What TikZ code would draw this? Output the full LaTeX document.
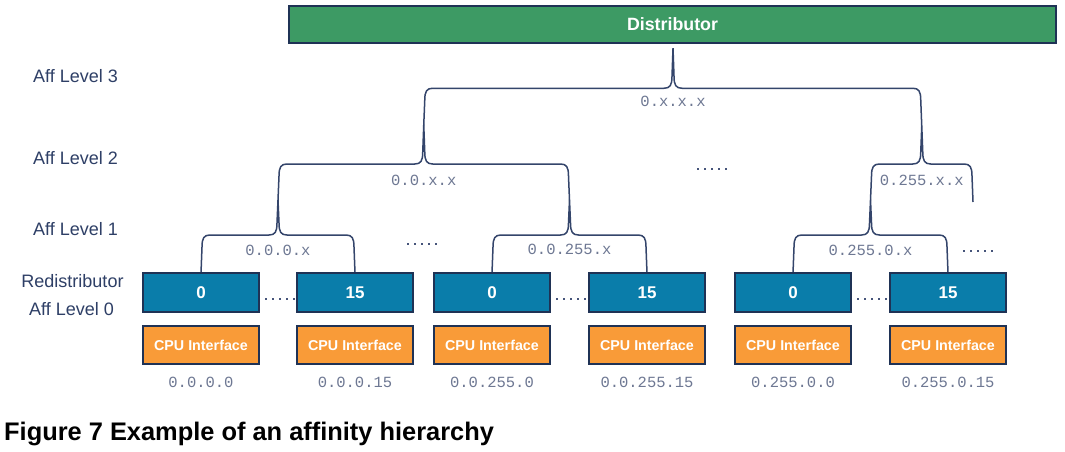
\documentclass[tikz,border=0pt]{standalone}
\usepackage{fontspec}
\setmainfont{Liberation Sans}
\newfontfamily\monof{Liberation Mono}
\usetikzlibrary{calc}
\definecolor{navy}{HTML}{1F3255}
\definecolor{linec}{HTML}{34456B}
\definecolor{lblc}{HTML}{2E3F66}
\definecolor{addrc}{HTML}{6E7893}
\definecolor{dotc}{HTML}{46547A}
\definecolor{distg}{HTML}{3D9A64}
\definecolor{boxblue}{HTML}{0A7DAA}
\definecolor{cpuor}{HTML}{F99B38}
\newcommand\affbrace[4]{%
  \draw[conn] let \p1=(#1), \p2=(#2), \p3=(#3), \p4=($(#2)+(0,#4)$) in
    (\p1) -- (\x1+1pt,\y4-12pt) .. controls (\x1+1pt,\y4-3pt) and (\x1+3pt,\y4) .. (\x1+9pt,\y4)
    -- (\x2-9pt,\y4) .. controls (\x2-3pt,\y4) and (\x2-1pt,\y4+3pt) .. (\x2-1pt,\y4+12pt) -- (\p2)
    -- (\x2+1pt,\y4+12pt) .. controls (\x2+1pt,\y4+3pt) and (\x2+3pt,\y4) .. (\x2+9pt,\y4)
    -- (\x3-9pt,\y4) .. controls (\x3-3pt,\y4) and (\x3-1pt,\y4-3pt) .. (\x3-1pt,\y4-12pt) -- (\p3);
}
\begin{document}
\begin{tikzpicture}[x=1pt,y=-1pt,
  conn/.style={draw=linec, line width=1.5pt},
  dotline/.style={draw=dotc, line width=2.3pt, dash pattern=on 2.3pt off 4.7pt},
  distbox/.style={draw=navy, line width=2.5pt, fill=distg, minimum width=767pt, minimum height=37pt,
    inner sep=0, text=white, font=\bfseries\fontsize{17.8}{18}\selectfont},
  redist/.style={draw=navy, line width=2pt, fill=boxblue, minimum width=116pt, minimum height=39pt,
    inner sep=0, text=white, font=\bfseries\fontsize{17}{17}\selectfont},
  cpu/.style={draw=navy, line width=2pt, fill=cpuor, minimum width=116pt, minimum height=38pt,
    inner sep=0, text=white, font=\bfseries\fontsize{14.3}{14.3}\selectfont},
  addr/.style={inner sep=0, text=addrc, font=\monof\fontsize{15.5}{15.5}\selectfont},
  blab/.style={inner sep=0, text=addrc, font=\monof\fontsize{15.5}{15.5}\selectfont},
  lvl/.style={inner sep=0, text=lblc, font=\fontsize{18}{18}\selectfont},
  caption/.style={inner sep=0, text=black, font=\bfseries\fontsize{25.4}{25.4}\selectfont}
]
\useasboundingbox[fill=white] (0,0) rectangle (1065,451);

% level labels
\node[lvl, anchor=base west] (l3) at (33,82) {Aff Level 3};
\node[lvl, anchor=base west] (l2) at (33,164) {Aff Level 2};
\node[lvl, anchor=base west] (l1) at (33,235) {Aff Level 1};
\node[lvl, anchor=base] (l0a) at (72.5,287) {Redistributor};
\node[lvl, anchor=base] (l0b) at (71.5,315) {Aff Level 0};

% distributor
\node[distbox] (dist) at (672.5,24.5) {Distributor};

% redistributor box positions
\path (201,292.5) coordinate (p1) (355,292.5) coordinate (p2)
      (492,292.5) coordinate (p3) (647,292.5) coordinate (p4)
      (793,292.5) coordinate (p5) (948,292.5) coordinate (p6);
\foreach \i in {1,...,6}{\coordinate (q\i) at ($(p\i)+(0,-19.5)$);}

% junction coordinates
\coordinate (t1a) at ($(q1)!0.5!(q2)+(0,-73)$);
\coordinate (t1b) at ($(q3)!0.5!(q4)+(0,-73)$);
\coordinate (t1c) at ($(q5)!0.5!(q6)+(0,-73)$);
\coordinate (open) at (973,202);
\coordinate (t2a) at ($(t1a)!0.5!(t1b)+(0,-75)$);
\coordinate (t2b) at ($(t1c)!0.5!(open)+(0,-75)$);
\coordinate (t3) at ($(dist.south)+(0.5,4)$);

% braces
\affbrace{q1}{t1a}{q2}{35}
\affbrace{q3}{t1b}{q4}{35}
\affbrace{q5}{t1c}{q6}{35}
\affbrace{t1a}{t2a}{t1b}{39}
\affbrace{t1c}{t2b}{open}{38}
\affbrace{t2a}{t3}{t2b}{40}

% brace labels
\node[blab] (b3) at ($(t3)+(0,53)$) {0.x.x.x};
\node[blab] (b2a) at ($(t2a)+(0,55)$) {0.0.x.x};
\node[blab] (b2b) at ($(t2b)+(0,54)$) {0.255.x.x};
\node[blab] (b1a) at ($(t1a)+(0,50)$) {0.0.0.x};
\node[blab] (b1b) at ($(t1b)+(0,49)$) {0.0.255.x};
\node[blab] (b1c) at ($(t1c)+(0,50)$) {0.255.0.x};

% boxes
\node[redist] (r1) at (p1) {0};
\node[redist] (r2) at (p2) {15};
\node[redist] (r3) at (p3) {0};
\node[redist] (r4) at (p4) {15};
\node[redist] (r5) at (p5) {0};
\node[redist] (r6) at (p6) {15};
\foreach \i in {1,...,6}{
  \node[cpu] (c\i) at ($(p\i)+(0,52.5)$) {CPU Interface};
}
\node[addr] (a1) at ($(p1)+(0,89.5)$) {0.0.0.0};
\node[addr] (a2) at ($(p2)+(0,89.5)$) {0.0.0.15};
\node[addr] (a3) at ($(p3)+(0,89.5)$) {0.0.255.0};
\node[addr] (a4) at ($(p4)+(0,89.5)$) {0.0.255.15};
\node[addr] (a5) at ($(p5)+(0,89.5)$) {0.255.0.0};
\node[addr] (a6) at ($(p6)+(0,89.5)$) {0.255.0.15};

% dots between boxes
\draw[dotline] ($(r1.east)+(5,6.5)$) -- ($(r2.west)+(-1,6.5)$);
\draw[dotline] ($(r3.east)+(5,6.5)$) -- ($(r4.west)+(-1,6.5)$);
\draw[dotline] ($(r5.east)+(5,6.5)$) -- ($(r6.west)+(-1,6.5)$);
% free dots
\draw[dotline] (407,244) -- (438,244);
\draw[dotline] (697,169) -- (728,169);
\draw[dotline] (963,251) -- (994,251);

% caption
\node[caption, anchor=base west] (cap) at (4,440) {Figure 7 Example of an affinity hierarchy};
\end{tikzpicture}
\end{document}
